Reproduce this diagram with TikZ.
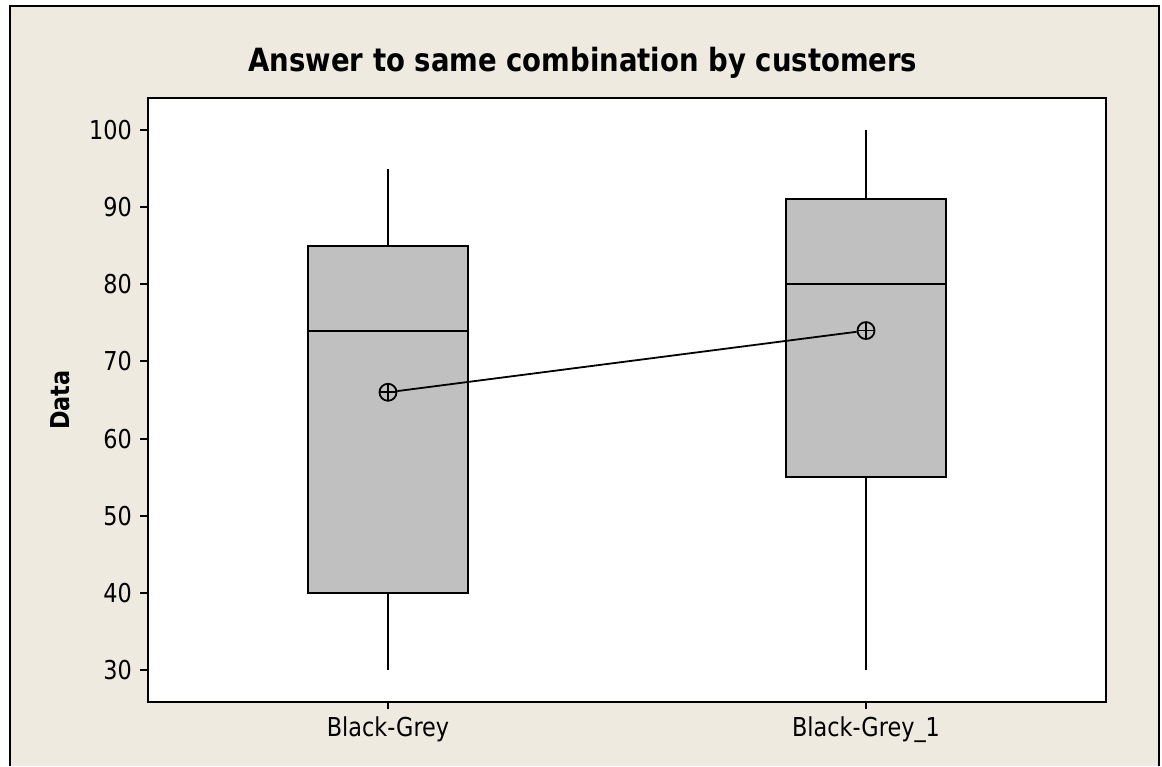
\documentclass[tikz,border=0pt]{standalone}
\usepackage{fontspec}
\setmainfont{DejaVu Sans}[FakeStretch=0.86]
\usetikzlibrary{calc}
\definecolor{panelbeige}{RGB}{238,234,224}
\definecolor{boxgray}{RGB}{192,192,192}

\begin{document}
\begin{tikzpicture}[x=1pt, y=-1pt,
    ticklabel/.style={font=\fontsize{26}{30}\selectfont, inner sep=0pt},
    axisline/.style={draw=black, line width=2pt},
    boxplot/.style={draw=black, line width=2pt, fill=boxgray},
    meanmark/.style={circle, draw=black, line width=1.8pt, minimum size=17pt,
      inner sep=0pt, path picture={
        \draw[line width=1.8pt]
          (path picture bounding box.north) -- (path picture bounding box.south)
          (path picture bounding box.west) -- (path picture bounding box.east);}}]
  \useasboundingbox (0,0) rectangle (1162,766);

  % Panel
  \fill[panelbeige] (10,6) rectangle (1159,766);
  \draw[line width=2pt] (10,766) -- (10,6) -- (1159,6) -- (1159,766);
  \node[font=\bfseries\fontsize{32}{38}\selectfont, inner sep=0pt] (title)
    at (583,63) {Answer to same combination by customers};

  % Plot area
  \draw[axisline, fill=white] (148,98) rectangle (1106,702);
  \node[font=\bfseries\fontsize{26}{30}\selectfont, rotate=90, inner sep=0pt]
    (ylabel) at (60,400) {Data};

  % x axis ticks and group names
  \draw[axisline] (388,702) -- (388,709);
  \draw[axisline] (866,702) -- (866,709);
  \node[ticklabel, anchor=base] (grp1) at (388,736) {Black-Grey};
  \node[ticklabel, anchor=base] (grp2) at (866,736) {Black-Grey\_1};

  % Boxes, value v sits at 130 + (100-v)*7.714
  \begin{scope}[x=1pt, y=7.714pt, yshift=-901.4pt]
    % y axis ticks
    \foreach \v in {30,40,...,100} {
      \draw[axisline] (140,\v) -- (148,\v);
      \node[ticklabel, anchor=east] (tick\v) at (132,\v) {\v};
    }

    % box per group: centre / whisker low / Q1 / median / Q3 / whisker high
    \foreach \cx/\lo/\qa/\med/\qc/\hi in {388/30/40/74/85/95, 866/30/55/80/91/100} {
      \draw[line width=2pt] (\cx,\hi) -- (\cx,\qc) (\cx,\qa) -- (\cx,\lo);
      \draw[boxplot] (\cx-80,\qa) rectangle (\cx+80,\qc);
      \draw[line width=2pt] (\cx-80,\med) -- (\cx+80,\med);
    }

    % means
    \node[meanmark] (mean1) at (388,66) {};
    \node[meanmark] (mean2) at (866,74) {};
    \draw[line width=1.8pt] (mean1) -- (mean2);
  \end{scope}
\end{tikzpicture}
\end{document}
